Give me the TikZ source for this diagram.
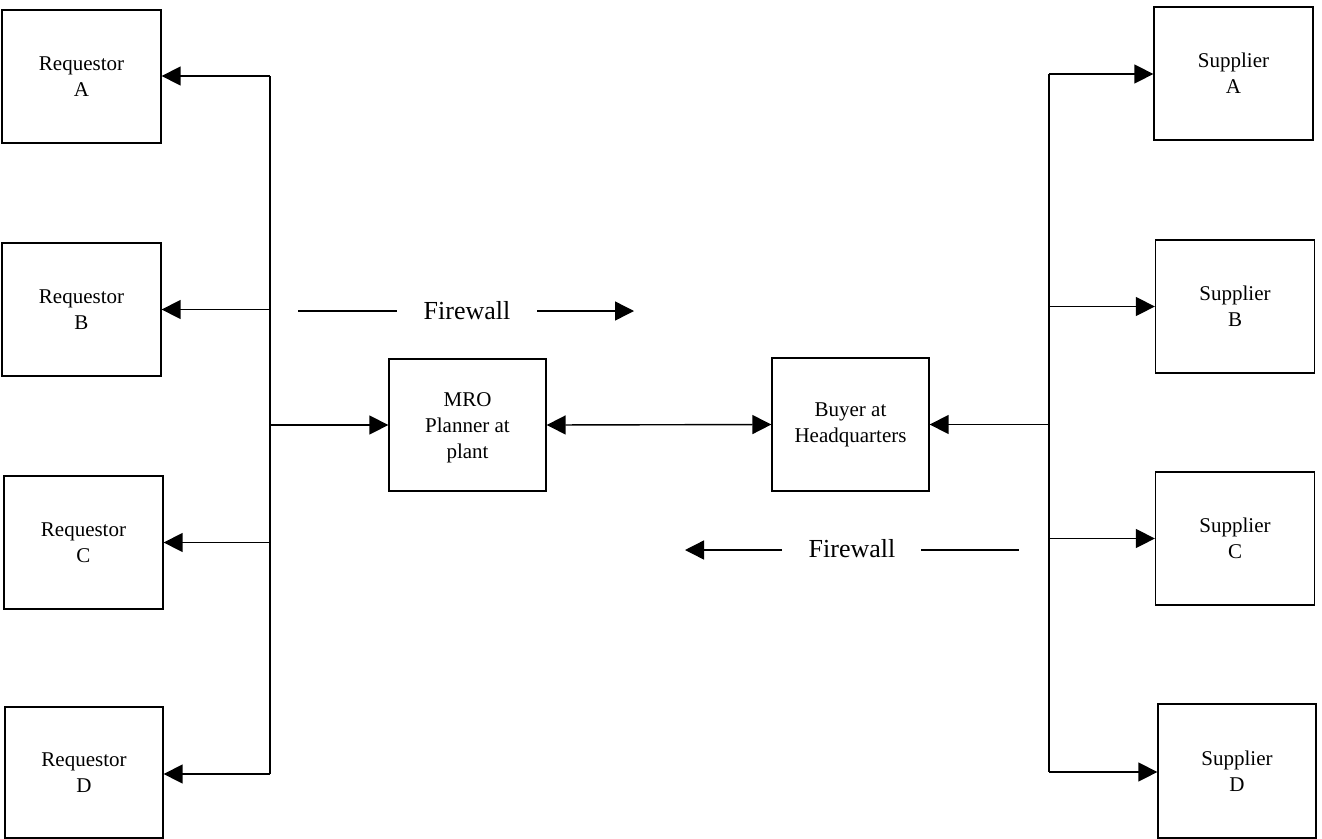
\documentclass[tikz,border=0pt]{standalone}
\usepackage{fontspec}
\setmainfont{Liberation Serif}
\usetikzlibrary{arrows.meta}
\begin{document}
\begin{tikzpicture}[x=1pt,y=-1pt,
  box/.style={draw, line width=1.3pt, inner sep=0pt, minimum width=159pt, minimum height=133pt, align=center, font=\fontsize{21}{26}\selectfont},
  midbox/.style={draw, line width=1.3pt, inner sep=0pt, minimum width=157pt, minimum height=132pt, align=center, font=\fontsize{21}{26}\selectfont},
  conn/.style={line width=1.4pt},
  tip/.style={conn, -{Triangle[length=19pt,width=19pt]}},
  fwtext/.style={font=\fontsize{26}{30}\selectfont, inner sep=0pt}
]
\useasboundingbox (0,0) rectangle (1322,838);
% requestors
\node[box] (reqA) at (81.5,76.5) {Requestor\\A};
\node[box] (reqB) at (81.5,309.5) {Requestor\\B};
\node[box] (reqC) at (83.5,542.5) {Requestor\\C};
\node[box, minimum width=158pt, minimum height=131pt] (reqD) at (84,772.5) {Requestor\\D};
% suppliers
\node[box] (supA) at (1233.5,73.5) {Supplier\\A};
\node[box] (supB) at (1235,306.5) {Supplier\\B};
\node[box] (supC) at (1235,538.5) {Supplier\\C};
\node[box, minimum width=158pt, minimum height=134pt] (supD) at (1237,771) {Supplier\\D};
% middle
\node[midbox] (mro) at (467.5,425) {\\[-6pt]MRO\\Planner at\\plant};
\node[midbox, minimum height=133pt] (buyer) at (850.5,424.5) {Buyer at\\Headquarters};
% left bus
\coordinate (lbTop) at (270,76);
\coordinate (lbBot) at (270,774);
\draw[conn] (lbTop) -- (lbBot);
\draw[tip] (lbTop) -- (reqA.east |- lbTop);
\draw[tip] (reqB.east -| lbTop) -- (reqB.east);
\draw[tip] (reqC.east -| lbTop) -- (reqC.east);
\draw[tip] (lbBot) -- (reqD.east |- lbBot);
\draw[tip] (mro.west -| lbTop) -- (mro.west);
% right bus
\coordinate (rbTop) at (1049,74);
\coordinate (rbBot) at (1049,772);
\draw[conn] (rbTop) -- (rbBot);
\draw[tip] (rbTop) -- (supA.west |- rbTop);
\draw[tip] (supB.west -| rbTop) -- (supB.west);
\draw[tip] (supC.west -| rbTop) -- (supC.west);
\draw[tip] (rbBot) -- (supD.west |- rbBot);
\draw[tip] (buyer.east -| rbTop) -- (buyer.east);
% mro <-> buyer
\draw[conn, {Triangle[length=19pt,width=19pt]}-{Triangle[length=19pt,width=19pt]}] (mro.east) -- (buyer.west);
% firewall top
\node[fwtext] (fw1) at (467,311) {Firewall};
\coordinate (fw1a) at (298,311);
\coordinate (fw1b) at (397,311);
\coordinate (fw1c) at (537,311);
\coordinate (fw1d) at (634,311);
\draw[conn] (fw1a) -- (fw1b);
\draw[tip] (fw1c) -- (fw1d);
% firewall bottom
\node[fwtext] (fw2) at (852,549) {Firewall};
\coordinate (fw2a) at (685,550);
\coordinate (fw2b) at (782,550);
\coordinate (fw2c) at (921,550);
\coordinate (fw2d) at (1019,550);
\draw[tip] (fw2b) -- (fw2a);
\draw[conn] (fw2c) -- (fw2d);
\end{tikzpicture}
\end{document}
